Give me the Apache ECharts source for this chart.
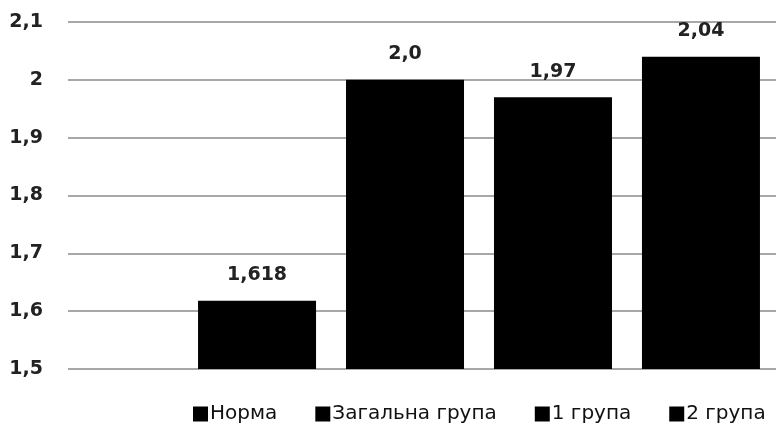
<!DOCTYPE html>
<html><head><meta charset="utf-8">
<script src="https://cdn.jsdelivr.net/npm/echarts@6/dist/echarts.min.js"></script>
<style>html,body{margin:0;padding:0;background:#fff}#c{width:776px;height:423px}</style>
</head><body><div id="c"></div>
<script>
const seriesNames = ['Норма', 'Загальна група', '1 група', '2 група'];
const seriesValues = [1.618, 2.0, 1.97, 2.04];
const valueLabels = ['1,618', '2,0', '1,97', '2,04'];
const yTicks = ['1,5', '1,6', '1,7', '1,8', '1,9', '2', '2,1'];

const FONT = '"DejaVu Sans", sans-serif';
const chart = echarts.init(document.getElementById('c'), null, {renderer: 'canvas'});
chart.setOption({
  animation: false,
  backgroundColor: '#fff',
  grid: {left: 68, top: 22, width: 822, height: 347, containLabel: false, outerBoundsMode: 'none'},
  xAxis: {type: 'category', data: [''], axisLine: {show: false}, axisTick: {show: false}, axisLabel: {show: false}},
  yAxis: {
    type: 'value', min: 1.5, max: 2.1, interval: 0.1,
    axisLine: {show: false}, axisTick: {show: false},
    splitLine: {lineStyle: {color: '#8a8a8a', width: 1.5}},
    axisLabel: {
      margin: 25, color: '#222', fontSize: 19, fontWeight: 'bold', fontFamily: FONT,
      formatter: (v) => yTicks[Math.round((v - 1.5) * 10)]
    }
  },
  legend: {
    left: 193, top: 404, padding: 0, itemWidth: 15, itemHeight: 15, itemGap: 38,
    icon: 'rect',
    textStyle: {fontSize: 20, color: '#111', fontFamily: FONT, padding: [0, 0, 0, -3]},
    data: seriesNames
  },
  series: seriesNames.map((n, i) => ({
    name: n, type: 'bar', data: [seriesValues[i]],
    barWidth: 118, barGap: '25.4%',
    itemStyle: {color: '#000'},
    label: {
      show: true, position: 'top', distance: 16,
      color: '#222', fontSize: 19, fontWeight: 'bold', fontFamily: FONT,
      formatter: () => valueLabels[i]
    }
  }))
});
</script></body></html>
